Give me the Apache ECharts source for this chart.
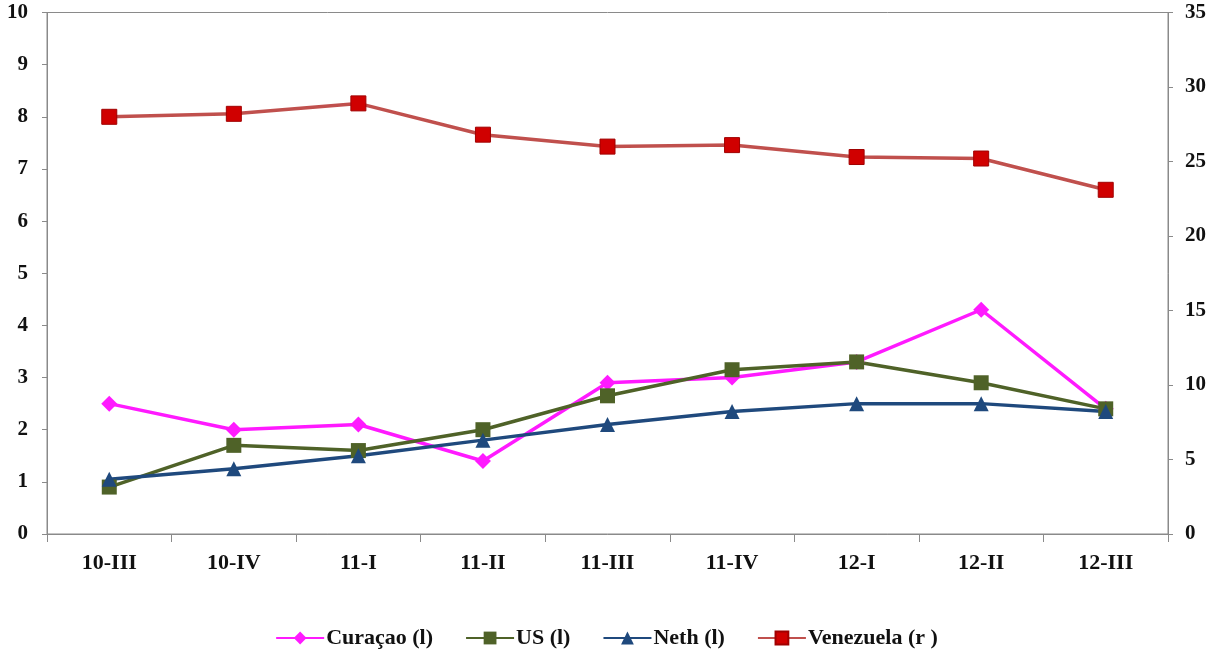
<!DOCTYPE html>
<html><head><meta charset="utf-8">
<script src="https://cdn.jsdelivr.net/npm/echarts@6/dist/echarts.min.js"></script>
<style>html,body{margin:0;padding:0;background:#fff}#c{width:1213px;height:660px}</style>
</head><body><div id="c"></div>
<script>
const categories = ['10-III','10-IV','11-I','11-II','11-III','11-IV','12-I','12-II','12-III'];
const curacao = [2.5, 2.0, 2.1, 1.4, 2.9, 3.0, 3.3, 4.3, 2.4];
const us = [0.9, 1.7, 1.6, 2.0, 2.65, 3.15, 3.3, 2.9, 2.4];
const neth = [1.05, 1.25, 1.5, 1.8, 2.1, 2.35, 2.5, 2.5, 2.35];
const venezuela = [28.0, 28.2, 28.9, 26.8, 26.0, 26.1, 25.3, 25.2, 23.1];
const leftTicks = {min: 0, max: 10, interval: 1};
const rightTicks = {min: 0, max: 35, interval: 5};

const font = 'Liberation Serif';
const chart = echarts.init(document.getElementById('c'));
chart.setOption({
  animation: false,
  grid: {left: 47, right: 45, top: 12.5, bottom: 126, show: true, borderColor: '#8a8a8a', borderWidth: 1},
  legend: {
    bottom: 6, left: 'center', itemWidth: 48, itemHeight: 16, itemGap: 32,
    textStyle: {fontFamily: font, fontSize: 22, fontWeight: 'bold', color: '#111', padding: [0, 0, 0, -3]},
    data: ['Curaçao (l)', 'US (l)', 'Neth (l)', 'Venezuela (r )']
  },
  xAxis: {
    type: 'category', data: categories, boundaryGap: true,
    axisLine: {lineStyle: {color: '#8a8a8a', width: 1}},
    axisTick: {show: true, length: 8, lineStyle: {color: '#8a8a8a'}},
    axisLabel: {fontFamily: font, fontSize: 22, fontWeight: 'bold', color: '#111', margin: 18}
  },
  yAxis: [
    {type: 'value', position: 'left', min: leftTicks.min, max: leftTicks.max, interval: leftTicks.interval,
     axisLine: {show: true, lineStyle: {color: '#8a8a8a'}},
     axisTick: {show: true, length: 5, lineStyle: {color: '#8a8a8a'}},
     splitLine: {show: false},
     axisLabel: {fontFamily: font, fontSize: 21, fontWeight: 'bold', color: '#111', margin: 19}},
    {type: 'value', position: 'right', min: rightTicks.min, max: rightTicks.max, interval: rightTicks.interval,
     axisLine: {show: true, lineStyle: {color: '#8a8a8a'}},
     axisTick: {show: true, length: 5, lineStyle: {color: '#8a8a8a'}},
     splitLine: {show: false},
     axisLabel: {fontFamily: font, fontSize: 21, fontWeight: 'bold', color: '#111', margin: 17}}
  ],
  series: [
    {name: 'Curaçao (l)', type: 'line', yAxisIndex: 0, data: curacao,
     symbol: 'diamond', symbolSize: 16,
     lineStyle: {color: '#ff1aff', width: 3.5}, itemStyle: {color: '#ff1aff'}},
    {name: 'US (l)', type: 'line', yAxisIndex: 0, data: us,
     symbol: 'rect', symbolSize: 15,
     lineStyle: {color: '#4f6228', width: 3.5}, itemStyle: {color: '#4f6228'}},
    {name: 'Neth (l)', type: 'line', yAxisIndex: 0, data: neth,
     symbol: 'triangle', symbolSize: 15,
     lineStyle: {color: '#1f497d', width: 3.5}, itemStyle: {color: '#1f497d'}},
    {name: 'Venezuela (r )', type: 'line', yAxisIndex: 1, data: venezuela,
     symbol: 'rect', symbolSize: 15,
     lineStyle: {color: '#c0504d', width: 3.5}, itemStyle: {color: '#d00000', borderColor: '#a00000', borderWidth: 1}}
  ]
});
</script>
</body></html>
